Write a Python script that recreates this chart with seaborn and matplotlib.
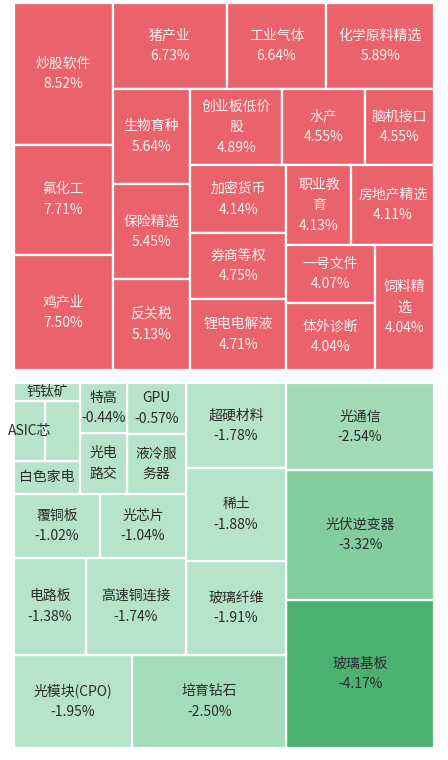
import numpy as np
import matplotlib
matplotlib.use("Agg")
import matplotlib.pyplot as plt
import seaborn as sns
from matplotlib.patches import Rectangle

sns.set_theme(style="white")
plt.rcParams['font.family'] = ['Noto Sans CJK SC', 'DejaVu Sans']

# rising sectors (name, change %, tile area)
up_names = ['炒股软件', '氟化工', '鸡产业', '猪产业', '工业气体', '化学原料精选', '生物育种',
            '保险精选', '反关税', '创业板低价股', '水产', '脑机接口', '加密货币', '券商等权',
            '锂电电解液', '职业教育', '房地产精选', '一号文件', '体外诊断', '饲料精选']
up_values = [8.52, 7.71, 7.50, 6.73, 6.64, 5.89, 5.64, 5.45, 5.13, 4.89, 4.55, 4.55, 4.14,
             4.75, 4.71, 4.13, 4.11, 4.07, 4.04, 4.04]
up_sizes = [15225, 11760, 12390, 10736, 9328, 10120, 8051, 8051, 7700, 7600, 6840, 5700,
            7125, 6800, 7440, 5700, 7200, 5600, 6500, 8000]

# falling sectors (laid out from the bottom-right corner)
down_names = ['玻璃基板', '光伏逆变器', '光通信', '培育钻石', '光模块(CPO)', '玻璃纤维', '稀土',
              '超硬材料', '高速铜连接', '电路板', '光芯片', '覆铜板', '液冷服务器', 'GPU', '光电路交',
              '特高', '白色家电', '', 'ASIC芯', '钙钛矿']
down_values = [-4.17, -3.32, -2.54, -2.50, -1.95, -1.91, -1.88, -1.78, -1.74, -1.38, -1.04,
               -1.02, None, -0.57, None, -0.44, None, None, None, None]
down_sizes = [22050, 19270, 13000, 14400, 11070, 9500, 9300, 8600, 9800, 7056, 5525, 5525,
              3570, 3055, 2860, 2350, 2200, 2100, 1890, 1190]


def worst(row, w):
    s = sum(row)
    return max(max(w * w * r / (s * s), (s * s) / (w * w * r)) for r in row)


def squarify(sizes, x, y, w, h):
    total = sum(sizes)
    areas = [s * w * h / total for s in sizes]
    rects = []
    i = 0
    while i < len(areas):
        side = min(w, h)
        row = [areas[i]]
        j = i + 1
        while j < len(areas) and worst(row + [areas[j]], side) <= worst(row, side):
            row.append(areas[j])
            j += 1
        s = sum(row)
        if w >= h:
            cw = s / h
            cy = y
            for a in row:
                rects.append((x, cy, cw, a / cw))
                cy += a / cw
            x += cw
            w -= cw
        else:
            ch = s / w
            cx = x
            for a in row:
                rects.append((cx, y, a / ch, ch))
                cx += a / ch
            y += ch
            h -= ch
        i = j
    return rects


def wrap(name, width):
    per = max(1, int((width - 6) // 15))
    if len(name) <= per or name.isascii() or '(' in name or 'ASIC' in name:
        return name
    return '\n'.join(name[k:k + per] for k in range(0, len(name), per))


fig = plt.figure(figsize=(4.48, 7.6), dpi=100)
ax = fig.add_axes([0, 0, 1, 1])
ax.set_xlim(0, 448)
ax.set_ylim(760, 0)
ax.axis('off')

green_cmap = sns.blend_palette(['#b5e4c8', '#9bd8b0', '#7ccb9a', '#48b072'], as_cmap=True)


def draw(names, values, sizes, box, up):
    x0, y0, w0, h0 = box
    for (x, y, w, h), n, v in zip(squarify(sizes, 0, 0, w0, h0), names, values):
        if up:
            fc = '#ea636a'
            tc = '#fdf0f0'
        else:
            x = w0 - x - w
            y = h0 - y - h
            mag = 0.0 if v is None else max(0.0, (abs(v) - 2.0) / 2.2)
            fc = green_cmap(min(mag, 1.0))
            tc = '#2b2b2b'
        x += x0
        y += y0
        ax.add_patch(Rectangle((x, y), w, h, facecolor=fc, edgecolor='white', linewidth=1.6))
        label = wrap(n, w)
        if v is not None:
            label += '\n' + f'{v:.2f}%'
        ax.text(x + w / 2, y + h / 2, label, ha='center', va='center', color=tc,
                fontsize=10, linespacing=1.6, clip_on=True)


draw(up_names, up_values, up_sizes, (14, 3, 420, 367), True)
draw(down_names, down_values, down_sizes, (14, 383, 420, 365), False)

fig.savefig('out.png', dpi=100, facecolor='white')
